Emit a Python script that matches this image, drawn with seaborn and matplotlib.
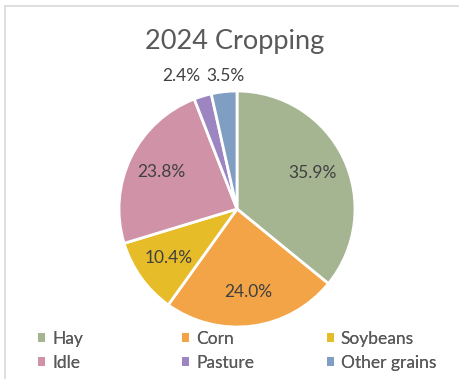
import matplotlib.pyplot as plt
import seaborn as sns
from matplotlib.patches import Patch
from matplotlib.lines import Line2D

sns.set_theme(style="white")
plt.rcParams["font.family"] = ["Lato", "DejaVu Sans"]

# data
crops = ["Hay", "Corn", "Soybeans", "Idle", "Pasture", "Other grains"]
shares = [35.9, 24.0, 10.4, 23.8, 2.4, 3.5]
colors = ["#A5B592", "#F3A447", "#E7BC29", "#D092A7", "#9C85C0", "#809EC2"]

W, H = 460, 379
fig = plt.figure(figsize=(W / 100, H / 100), dpi=100)
fig.patch.set_facecolor("white")

# light chart frame (left and top edges visible)
fig.add_artist(Line2D([5.5 / W, 5.5 / W], [0, 1 - 6 / H], color="#D9D9D9", lw=1.2))
fig.add_artist(Line2D([5.5 / W, 1], [1 - 6 / H, 1 - 6 / H], color="#D9D9D9", lw=1.2))

# pie axes: centre (237, 209) px, radius 118 px
cx, cy, r = 237, 209, 118
ax = fig.add_axes([(cx - r) / W, (H - cy - r) / H, 2 * r / W, 2 * r / H])

wedges, texts, autotexts = ax.pie(
    shares, colors=colors, startangle=90, counterclock=False,
    autopct="%.1f%%", pctdistance=0.71,
    wedgeprops=dict(edgecolor="white", linewidth=2),
    textprops=dict(fontsize=12.5, color="#404040"),
)
ax.set_xlim(-1, 1)
ax.set_ylim(-1, 1)
ax.set_aspect("equal")

# small slices get their labels above the pie
for t, pos in zip(autotexts[4:], [(-0.47, 1.13), (-0.10, 1.13)]):
    t.set_position(pos)

fig.text(235 / W, 1 - 42 / H, "2024 Cropping", ha="center", va="center",
         fontsize=19.5, color="#595959")

# legend: three columns, row-major order
col_x = [38, 182, 327]
for c in range(3):
    idx = [c, c + 3]
    handles = [Patch(facecolor=colors[i], edgecolor="none", label=crops[i]) for i in idx]
    leg = fig.legend(handles=handles, loc="center left",
                     bbox_to_anchor=(col_x[c] / W, 1 - 351 / H),
                     frameon=False, fontsize=12.5, handlelength=0.42, handleheight=0.42,
                     handletextpad=0.38, labelspacing=0.45, borderpad=0, borderaxespad=0,
                     labelcolor="#595959")
    fig.add_artist(leg)

fig.savefig("out.png", dpi=100)
